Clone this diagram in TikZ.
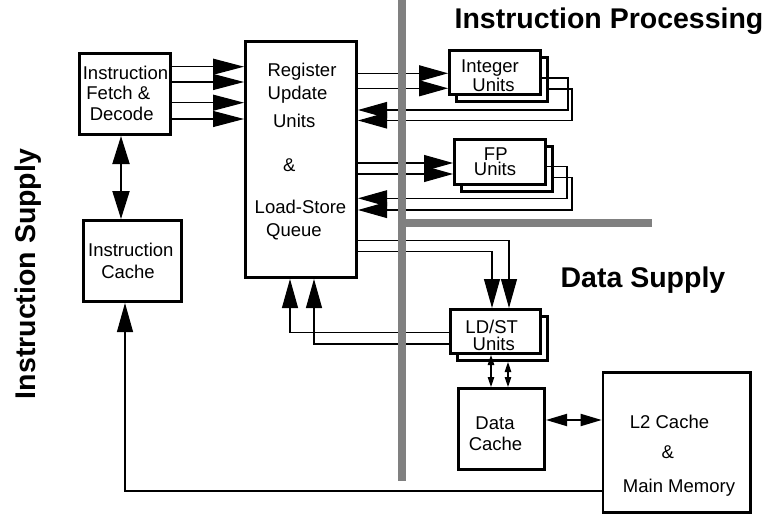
\documentclass[tikz,border=0pt]{standalone}
\usepackage{fontspec}
\setmainfont{Liberation Sans}
\usetikzlibrary{arrows.meta}
\begin{document}
\begin{tikzpicture}[x=1pt,y=-1pt,
  box/.style={draw, line width=2.6pt, fill=white, inner sep=0pt},
  txt/.style={font=\fontsize{18.5}{20}\selectfont, inner sep=0pt, anchor=base},
  head/.style={font=\bfseries\fontsize{28.5}{30}\selectfont, inner sep=0pt, anchor=base},
  conn/.style={line width=1.1pt},
  big/.style={conn, -{Triangle[length=29pt,width=16pt]}},
  bigdbl/.style={line width=2pt, {Triangle[length=28pt,width=17pt]}-{Triangle[length=28pt,width=17pt]}},
  meddbl/.style={line width=1.8pt, {Triangle[length=21pt,width=12pt]}-{Triangle[length=21pt,width=12pt]}},
  smalldbl/.style={conn, {Triangle[length=10pt,width=6.5pt]}-{Triangle[length=10pt,width=6.5pt]}},
  bar/.style={draw={rgb,255:red,128;green,128;blue,128}, line width=8pt}
]
\useasboundingbox (0,0) rectangle (768,516);

% boxes
\node[box, minimum width=91.4, minimum height=81.4] (fetch) at (125,94) {};
\node[box, minimum width=98.4, minimum height=81.4] (icache) at (132.5,261) {};
\node[box, minimum width=111.4, minimum height=236.4] (reg) at (301,159.5) {};
\node[box, minimum width=91.1, minimum height=44.1] (intB) at (501.85,79.35) {};
\node[box, minimum width=91.1, minimum height=44.1] (intF) at (494.85,72.35) {};
\node[box, minimum width=91.4, minimum height=45.4] (fpB) at (507,169) {};
\node[box, minimum width=91.4, minimum height=45.4] (fpF) at (500,162) {};
\node[box, minimum width=90.4, minimum height=44.4] (ldB) at (502.5,338.5) {};
\node[box, minimum width=90.4, minimum height=44.4] (ldF) at (495.5,331.5) {};
\node[box, minimum width=86.4, minimum height=81.4] (dcache) at (501.5,429) {};
\node[box, minimum width=147.4, minimum height=140.4] (l2) at (676.7,442.5) {};

% texts
\node[txt] (f1) at (125.5,80) {Instruction};
\node[txt] (f2) at (118.3,100) {Fetch \&};
\node[txt] (f3) at (121.7,120.7) {Decode};
\node[txt] (c1) at (130.8,256.7) {Instruction};
\node[txt] (c2) at (128,278) {Cache};
\node[txt] (r1) at (302,76.7) {Register};
\node[txt] (r2) at (297.5,100) {Update};
\node[txt] (r3) at (294.2,128) {Units};
\node[txt] (r4) at (289.3,171.7) {\&};
\node[txt] (r5) at (300.5,213) {Load-Store};
\node[txt] (r6) at (294,236) {Queue};
\node[txt] (i1) at (490,72.7) {Integer};
\node[txt] (i2) at (493.5,91.7) {Units};
\node[txt] (p1) at (495.8,160.5) {FP};
\node[txt] (p2) at (495,175.5) {Units};
\node[txt] (l1) at (491.7,333.3) {LD/ST};
\node[txt] (l2t) at (493.8,350) {Units};
\node[txt] (d1) at (495,429.3) {Data};
\node[txt] (d2) at (495.5,450) {Cache};
\node[txt] (m1) at (669.5,428.5) {L2 Cache};
\node[txt] (m2) at (667.7,458.5) {\&};
\node[txt] (m3) at (679,492) {Main Memory};

% headings
\node[head] (hip) at (609,29) {Instruction Processing};
\node[head] (hds) at (643,287.3) {Data Supply};
\node[head, rotate=90] (his) at (35,274) {Instruction Supply};

% connectors
\foreach \y in {66.7,82,102.7,119}
  \draw[big, -{Triangle[length=31pt,width=16pt]}] (fetch.east |- 0,\y) -- (reg.west |- 0,\y);
\draw[bigdbl] (fetch.south -| 121,0) -- (icache.north -| 121,0);

\draw[big] (reg.east |- 0,73.3) -- (intF.west |- 0,73.3);
\draw[big] (reg.east |- 0,88.3) -- (intF.west |- 0,88.3);
\draw[big] (intF.east |- 0,78) -- (568,78) -- (568,110) -- (reg.east |- 0,110);
\draw[big] (intB.east |- 0,89) -- (572,89) -- (572,120.5) -- (reg.east |- 0,120.5);

\draw[big] (reg.east |- 0,163) -- (fpF.west |- 0,163);
\draw[big] (reg.east |- 0,174) -- (fpF.west |- 0,174);
\draw[big] (fpF.east |- 0,166.7) -- (567,166.7) -- (567,198.3) -- (reg.east |- 0,198.3);
\draw[big] (fpB.east |- 0,177.7) -- (572,177.7) -- (572,210) -- (reg.east |- 0,210);

\draw[big] (reg.east |- 0,240.7) -| (ldF.north -| 509,0);
\draw[big] (reg.east |- 0,251.7) -| (ldF.north -| 492,0);
\draw[big] (ldF.west |- 0,332.7) -| (reg.south -| 290,0);
\draw[big] (ldF.west |- 0,344) -| (reg.south -| 314,0);

\draw[smalldbl] (ldF.south -| 491,0) -- (dcache.north -| 491,0);
\draw[smalldbl] (ldB.south -| 508,0) -- (dcache.north -| 508,0);
\draw[meddbl] (dcache.east |- 0,420) -- (l2.west |- 0,420);
\draw[big] (l2.west |- 0,491) -| (icache.south -| 125,0);

% separator bars
\coordinate (bartop) at (402,0);
\coordinate (barbot) at (402,481);
\coordinate (barend) at (652,223);
\draw[bar] (bartop) -- (barbot);
\draw[bar] (bartop |- barend) -- (barend);
\end{tikzpicture}
\end{document}
